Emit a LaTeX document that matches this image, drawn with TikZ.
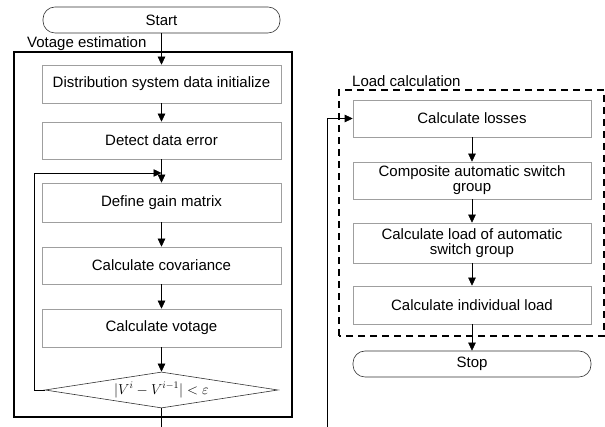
\documentclass[tikz,border=0pt]{standalone}
\usepackage{fontspec}
\setmainfont{Liberation Sans}
\usetikzlibrary{arrows.meta,shapes.geometric}
\begin{document}
\begin{tikzpicture}[x=1pt,y=1pt,
  txt/.style={font=\fontsize{15}{15}\selectfont},
  box/.style={txt, draw=gray!75, line width=0.6pt, minimum width=239pt, minimum height=38pt, inner sep=0pt, align=center},
  term/.style={txt, draw=black!80, line width=0.6pt, rounded corners=12pt, minimum width=237pt, minimum height=26pt, inner sep=0pt},
  arr/.style={-{Triangle[length=8pt,width=7.5pt]}, line width=0.6pt},
  ln/.style={line width=0.6pt},
  lbl/.style={txt, anchor=base west, inner sep=0pt}]
\useasboundingbox (0,0) rectangle (605,427);
% left frame
\draw[line width=1.2pt] (14,10) rectangle (292,375);
\node[lbl] (lv) at (27,379) {Votage estimation};
\node[term] (start) at (161.5,407) {Start};
\node[box] (b1) at (161.5,343) {Distribution system data initialize};
\node[box, minimum height=37pt] (b2) at (161.5,286.5) {Detect data error};
\node[box, minimum height=39pt] (b3) at (161.5,224.5) {Define gain matrix};
\node[box, minimum height=37pt] (b4) at (161.5,161.5) {Calculate covariance};
\node[box] (b5) at (161.5,99) {Calculate votage};
\node[draw=black!80, line width=0.6pt, diamond, aspect=6.5, minimum width=233pt, minimum height=36pt, inner sep=0pt, font=\fontsize{14}{14}\selectfont] (dia) at (161.5,37) {$\bigl|V^{i}-V^{i-1}\bigr| < \varepsilon$};
\coordinate (loopin) at (161.5,254);
\coordinate (loopx) at (34,0);
\coordinate (lb) at (161.5,0);
\draw[arr] (start) -- (b1);
\draw[arr] (b1) -- (b2);
\draw[arr] (b2) -- (b3);
\draw[arr] (b3) -- (b4);
\draw[arr] (b4) -- (b5);
\draw[arr] (b5) -- (dia);
\draw[ln] (dia.south) -- (lb);
\draw[arr] (dia.west) -- (dia.west -| loopx) |- (loopin);
% right frame
\draw[line width=1.2pt, dash pattern=on 7pt off 5pt] (339,91) rectangle (604,337);
\node[lbl] (lr) at (352,340) {Load calculation};
\node[box, minimum width=238pt, minimum height=37pt] (r1) at (472,308.5) {Calculate losses};
\node[box, minimum width=238pt, minimum height=37pt] (r2) at (472,246.5) {Composite automatic switch\\group};
\node[box, minimum width=238pt, minimum height=40pt] (r3) at (472,184) {Calculate load of automatic\\switch group};
\node[box, minimum width=238pt] (r4) at (472,122) {Calculate individual load};
\node[term, minimum width=238pt] (stop) at (472,63) {Stop};
\coordinate (rb) at (327,0);
\draw[arr] (r1) -- (r2);
\draw[arr] (r2) -- (r3);
\draw[arr] (r3) -- (r4);
\draw[arr] (r4) -- (stop);
\draw[arr] (rb) |- (r1.west);
\end{tikzpicture}
\end{document}
